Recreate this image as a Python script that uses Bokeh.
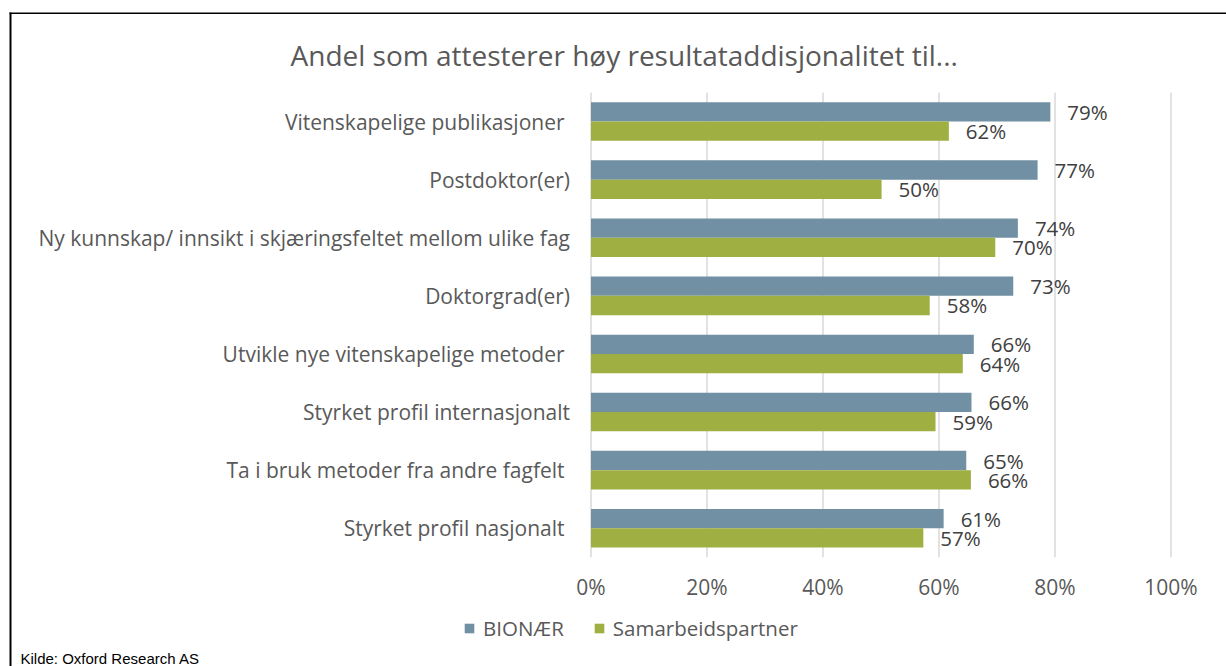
from bokeh.plotting import figure
from bokeh.models import (ColumnDataSource, Range1d, FixedTicker, Legend,
                          LegendItem, Label, BoxAnnotation)
from bokeh.transform import dodge
from bokeh.core.properties import value
from bokeh.embed import file_html
from bokeh.resources import INLINE

# ---------------- data ----------------
categories = [
    "Vitenskapelige publikasjoner ",
    "Postdoktor(er)",
    "Ny kunnskap/ innsikt i skjæringsfeltet mellom ulike fag",
    "Doktorgrad(er)",
    "Utvikle nye vitenskapelige metoder ",
    "Styrket profil internasjonalt",
    "Ta i bruk metoder fra andre fagfelt ",
    "Styrket profil nasjonalt ",
]
bionaer = [79.2, 77.0, 73.6, 72.8, 66.0, 65.6, 64.7, 60.8]
samarbeid = [61.7, 50.1, 69.7, 58.4, 64.1, 59.4, 65.5, 57.3]
series_names = ["BIONÆR", "Samarbeidspartner"]
x_ticks = [0, 20, 40, 60, 80, 100]
x_tick_labels = ["0%", "20%", "40%", "60%", "80%", "100%"]
title_text = "Andel som attesterer høy resultataddisjonalitet til..."
source_text = "Kilde: Oxford Research AS"

BLUE = "#7190A3"
GREEN = "#9FAF42"
AX = "#595959"
DL = "#404040"
FONT = "Open Sans"

pos = list(range(len(categories)))  # row index, 0 = top row
src = ColumnDataSource(dict(
    pos=pos,
    b=bionaer,
    s=samarbeid,
    bl=[f"{v:.0f}%" for v in bionaer],
    sl=[f"{v:.0f}%" for v in samarbeid],
))

W, H = 1226, 666
X0, PXP = 590.5, 5.8          # canvas x of 0 %, pixels per percent
Y0, ROW = 121.05, 58.1        # canvas y of first row centre, pixels per row

p = figure(width=W, height=H, output_backend="svg", toolbar_location=None,
           x_range=Range1d(-X0 / PXP, (W - X0) / PXP),
           y_range=Range1d((H - Y0) / ROW, -Y0 / ROW),
           min_border=0)
p.outline_line_color = None
p.background_fill_color = "white"
p.border_fill_color = "white"

# vertical grid lines spanning the band of rows
p.segment(x0=x_ticks, x1=x_ticks, y0=pos[0] - 0.5, y1=pos[-1] + 0.5,
          line_color="#d9d9d9", line_width=1.5)
p.xgrid.visible = False
p.ygrid.visible = False

bh = 0.332
off = 0.166
rb = p.hbar(y=dodge("pos", -off), right="b", left=0, height=bh,
            source=src, fill_color=BLUE, line_color=None)
rs = p.hbar(y=dodge("pos", off), right="s", left=0, height=bh,
            source=src, fill_color=GREEN, line_color=None)

for col, lab, o in (("b", "bl", -off), ("s", "sl", off)):
    p.text(x=col, y=dodge("pos", o), text=lab, source=src,
           x_offset=17, text_align="left", text_baseline="middle",
           text_font=value(FONT), text_font_size="20.5px", text_color=DL)

# axes (fixed inside the canvas)
p.xaxis.fixed_location = pos[-1] + 0.5
p.xaxis.ticker = FixedTicker(ticks=x_ticks)
p.xaxis.major_label_overrides = {t: l for t, l in zip(x_ticks, x_tick_labels)}
p.xaxis.axis_line_color = None
p.xaxis.major_tick_line_color = None
p.xaxis.minor_tick_line_color = None
p.xaxis.major_tick_out = 0
p.xaxis.major_tick_in = 0
p.xaxis.major_label_standoff = 16
p.xaxis.major_label_text_font = FONT
p.xaxis.major_label_text_font_size = "21px"
p.xaxis.major_label_text_color = AX

p.yaxis.fixed_location = 0
p.yaxis.ticker = FixedTicker(ticks=pos)
p.yaxis.major_label_overrides = {k: c for k, c in zip(pos, categories)}
p.yaxis.axis_line_color = None
p.yaxis.major_tick_line_color = None
p.yaxis.minor_tick_line_color = None
p.yaxis.major_tick_out = 0
p.yaxis.major_tick_in = 0
p.yaxis.major_label_standoff = 21
p.yaxis.major_label_text_font = FONT
p.yaxis.major_label_text_font_size = "21px"
p.yaxis.major_label_text_color = AX

# title
p.add_layout(Label(x=290, y=H - 54, x_units="screen", y_units="screen",
                   text=title_text, text_align="left", text_baseline="middle",
                   text_font=FONT, text_font_size="28px", text_color=AX))

# legend
lg = Legend(items=[LegendItem(label=series_names[0], renderers=[rb]),
                   LegendItem(label=series_names[1], renderers=[rs])],
            orientation="horizontal", location=(463, H - 642),
            padding=0, margin=0, spacing=29, border_line_color=None,
            background_fill_color=None, glyph_width=12, glyph_height=12,
            label_height=24, label_standoff=8, label_text_font=FONT,
            label_text_font_size="20.5px", label_text_color=AX,
            label_text_baseline="middle")
p.add_layout(lg, "center")

# source note
p.add_layout(Label(x=20, y=H - 649, x_units="screen", y_units="screen",
                   text=source_text, text_align="left", text_baseline="top",
                   text_font="Liberation Sans", text_font_size="15px",
                   text_color="black"))

# frame lines (top and left)
p.add_layout(BoxAnnotation(left=9, right=W, top=H - 12, bottom=H - 13.5,
                           left_units="screen", right_units="screen",
                           top_units="screen", bottom_units="screen",
                           fill_color="black", fill_alpha=1, line_color=None))
p.add_layout(BoxAnnotation(left=9, right=11, top=H - 12, bottom=0,
                           left_units="screen", right_units="screen",
                           top_units="screen", bottom_units="screen",
                           fill_color="black", fill_alpha=1, line_color=None))

open("out.html", "w").write(file_html(p, INLINE))
